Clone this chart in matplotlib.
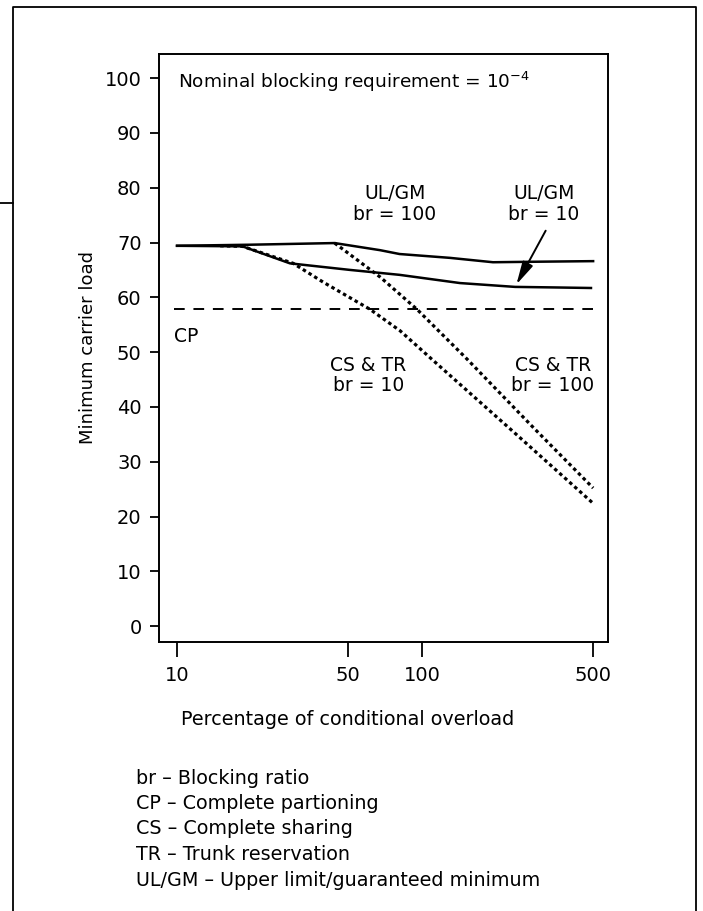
import numpy as np
import matplotlib.pyplot as plt
from matplotlib.lines import Line2D

# Percentage of conditional overload vs minimum carrier load
ulgm100_x = [10, 20, 44, 67.5, 81, 130, 195, 300, 500]
ulgm100_y = [69.4, 69.6, 69.9, 68.6, 67.9, 67.2, 66.4, 66.5, 66.6]

ulgm10_x = [10, 18.5, 28.9, 50.8, 81, 143, 240, 350, 490]
ulgm10_y = [69.4, 69.3, 66.2, 65.0, 64.1, 62.6, 61.9, 61.8, 61.7]

cstr100_x = [44, 67.5, 95.5, 153, 284, 500]
cstr100_y = [69.9, 63.7, 57.8, 48.7, 36.3, 25.2]

cstr10_x = [15, 18.5, 29.8, 39.4, 61.4, 81.4, 111, 244, 500]
cstr10_y = [69.4, 69.3, 66.2, 62.8, 57.8, 53.9, 48.5, 34.9, 22.4]

cp_x = [9.7, 500]
cp_y = [57.8, 57.8]

x_ticks = [10, 50, 100, 500]
y_ticks = list(range(0, 101, 10))

notes = [
    "br \u2013 Blocking ratio",
    "CP \u2013 Complete partioning",
    "CS \u2013 Complete sharing",
    "TR \u2013 Trunk reservation",
    "UL/GM \u2013 Upper limit/guaranteed minimum",
]

W, H = 703, 911
fig = plt.figure(figsize=(W / 100, H / 100), dpi=100)
ax = fig.add_axes([159 / W, 1 - 642 / H, (608 - 159) / W, (642 - 54) / H])

ax.plot(ulgm100_x, ulgm100_y, color="black", lw=1.8)
ax.plot(ulgm10_x, ulgm10_y, color="black", lw=1.8)
ax.plot(cstr100_x, cstr100_y, color="black", lw=2.3, linestyle=(0, (1.1, 1.0)))
ax.plot(cstr10_x, cstr10_y, color="black", lw=2.3, linestyle=(0, (1.1, 1.0)))
ax.plot(cp_x, cp_y, color="black", lw=1.4, linestyle=(0, (5.5, 4.5)))

ax.set_xscale("log")
ax.set_xlim(8.44, 575)
ax.set_ylim(-2.9, 104.4)
ax.set_xticks(x_ticks)
ax.set_xticklabels([str(t) for t in x_ticks])
ax.xaxis.set_minor_locator(plt.NullLocator())
ax.set_yticks(y_ticks)

ax.tick_params(axis="x", direction="out", length=11, width=1.3, pad=6, labelsize=14)
ax.tick_params(axis="y", direction="out", length=6.5, width=1.3, pad=6, labelsize=14)
for sp in ax.spines.values():
    sp.set_linewidth(1.4)

ax.set_ylabel("Minimum carrier load", fontsize=13)
ax.yaxis.set_label_coords(-0.138, 0.5)
ax.set_xlabel("Percentage of conditional overload", fontsize=13.8)
ax.xaxis.set_label_coords(0.42, -0.115)

ax.text(0.043, 0.953, r"Nominal blocking requirement = 10$^{\mathregular{-4}}$",
        transform=ax.transAxes, fontsize=13.3, va="center", ha="left")
ax.text(77.6, 77.0, "UL/GM\nbr = 100", fontsize=13.5, ha="center", va="center", linespacing=1.1)
ax.text(315, 77.0, "UL/GM\nbr = 10", fontsize=13.5, ha="center", va="center", linespacing=1.1)
ax.text(60.3, 45.7, "CS & TR\nbr = 10", fontsize=13.5, ha="center", va="center", linespacing=1.1)
ax.text(343, 45.7, "CS & TR\nbr = 100", fontsize=13.5, ha="center", va="center", linespacing=1.1)
ax.text(9.7, 52.8, "CP", fontsize=13.5, ha="left", va="center")

ax.annotate("", xy=(240, 61.9), xytext=(324, 72.6),
            arrowprops=dict(arrowstyle="-|>,head_length=0.7,head_width=0.17",
                            color="black", lw=1.4, mutation_scale=20))

for i, line in enumerate(notes):
    fig.text(136 / W, 1 - (778 + 25.5 * i) / H, line, fontsize=13.8, va="center", ha="left")

# outer frame of the scanned page
fig.add_artist(Line2D([13 / W, 13 / W, 696 / W, 696 / W], [0, 1 - 7 / H, 1 - 7 / H, 0],
                      transform=fig.transFigure, color="black", lw=1.3))
fig.add_artist(Line2D([0, 13 / W], [1 - 203 / H, 1 - 203 / H],
                      transform=fig.transFigure, color="black", lw=1.3))

fig.savefig("out.png", dpi=100, facecolor="white")
